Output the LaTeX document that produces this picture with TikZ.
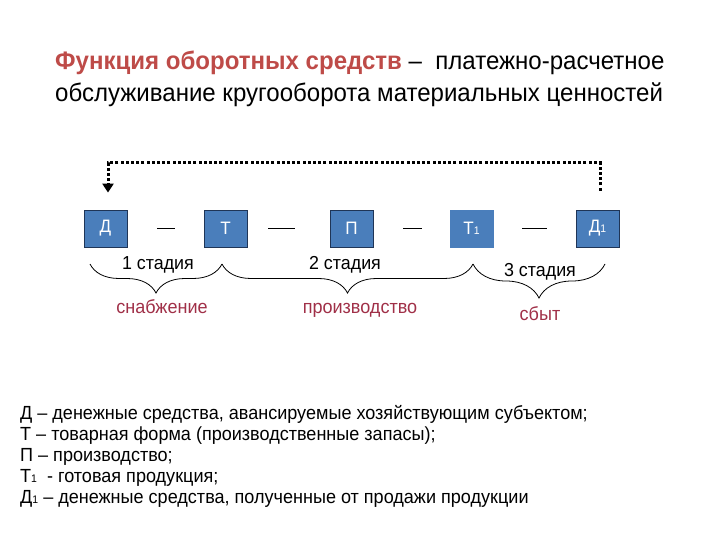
\documentclass[tikz,border=0pt]{standalone}
\usepackage{fontspec}
\setmainfont{Liberation Sans}[FakeStretch=0.95]
\usetikzlibrary{arrows.meta,decorations.pathreplacing}
\definecolor{titlered}{HTML}{BE4B48}
\definecolor{darkred}{HTML}{A03048}
\definecolor{boxblue}{HTML}{4A7EBB}
\definecolor{boxedge}{HTML}{1F3557}
\tikzset{
  stage/.style={draw=boxedge, line width=0.8pt, fill=boxblue, minimum width=43pt, minimum height=37pt, inner sep=0pt, text=white, font=\fontsize{18}{18}\selectfont},
  dashmark/.style={line width=0.8pt, black},
  cycle/.style={line width=3pt, dash pattern=on 3pt off 2.2pt, -{Triangle[width=11pt,length=9pt]}},
  bracket/.style={decorate, decoration={brace, mirror, amplitude=#1}, line width=0.8pt},
  stagelbl/.style={font=\fontsize{18.8}{18.8}\selectfont},
  rolelbl/.style={font=\fontsize{19}{19}\selectfont, text=darkred},
  legend/.style={anchor=base west, inner sep=0pt, font=\fontsize{19}{19}\selectfont},
  ttl/.style={anchor=base west, inner sep=0pt, font=\fontsize{25.3}{25.3}\selectfont}
}
\newcommand{\subone}{{\fontsize{11}{11}\selectfont 1}}
\begin{document}
\begin{tikzpicture}[x=1pt,y=-1pt]
\useasboundingbox (0,0) rectangle (720,540);
% title
\node[ttl] (t1line) at (55,70) {\textcolor{titlered}{\bfseries Функция оборотных средств} –\ \ платежно-расчетное};
\node[ttl] (t2line) at (55,102) {обслуживание кругооборота материальных ценностей};
% stage boxes
\node[stage] (d)  at (105.5,228.5) {Д};
\node[stage] (t)  at (225.5,228.5) {Т};
\node[stage] (p)  at (351.5,228.5) {П};
\node[stage, draw=boxblue] (tt) at (471.5,228.5) {Т\subone};
\node[stage] (dd) at (597.5,228.5) {Д\subone};
% dashes between boxes
\draw[dashmark] (157,228) -- (175,228);
\draw[dashmark] (268,228) -- (295,228);
\draw[dashmark] (403,228) -- (422,228);
\draw[dashmark] (522,228) -- (547,228);
% dotted cycle arrow
\draw[cycle] ([xshift=2.5pt,yshift=19pt]dd.north) -- ++(0,-28) -| ([xshift=2.5pt,yshift=17pt]d.north);
% braces
\coordinate (b0) at (90,264);
\coordinate (b1) at (222,264);
\coordinate (b2) at (473,264);
\coordinate (b3) at (605,264);
\draw[bracket=29pt] (b0) -- (b1);
\draw[bracket=29pt] (b1) -- (b2);
\draw[bracket=34pt] (b2) -- (b3);
\node[stagelbl] (s1) at (158,265) {1 стадия};
\node[stagelbl] (s2) at (345,265) {2 стадия};
\node[stagelbl] (s3) at (540,272) {3 стадия};
\node[rolelbl] (r1) at (162,307) {снабжение};
\node[rolelbl] (r2) at (360,310) {производство};
\node[rolelbl] (r3) at (540,314) {сбыт};
% legend
\node[legend] (l1) at (20,419) {Д – денежные средства, авансируемые хозяйствующим субъектом;};
\node[legend] (l2) at (20,440) {Т – товарная форма (производственные запасы);};
\node[legend] (l3) at (20,461) {П – производство;};
\node[legend] (l4) at (20,482) {Т\subone\ \ - готовая продукция;};
\node[legend] (l5) at (20,503) {Д\subone\ – денежные средства, полученные от продажи продукции};
\end{tikzpicture}
\end{document}
